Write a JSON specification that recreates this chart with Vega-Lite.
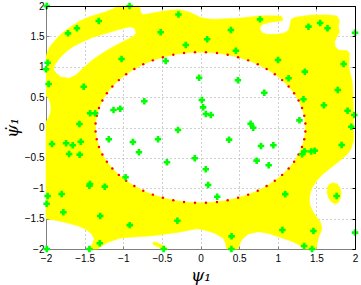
{
  "$schema": "https://vega.github.io/schema/vega-lite/v6.json",
  "width": 309,
  "height": 243,
  "autosize": {"type": "none"},
  "padding": {"left": 46, "top": 6, "right": 6, "bottom": 36},
  "background": "white",
  "config": {
    "view": {"stroke": null},
    "axis": {"labelFont": "Liberation Sans", "labelFontSize": 10, "labelColor": "#000", "titleFont": "DejaVu Serif", "titleFontStyle": "italic", "titleFontWeight": "normal", "titleFontSize": 17, "titleColor": "#000"}
  },
  "datasets": {
    "poly": [
      {"p":"m","o":1,"x":-2,"y":1.17},{"p":"m","o":2,"x":-1.975,"y":1.26},{"p":"m","o":3,"x":-1.95,"y":1.33},{"p":"m","o":4,"x":-1.91,"y":1.39},{"p":"m","o":5,"x":-1.85,"y":1.48},{"p":"m","o":6,"x":-1.78,"y":1.565},{"p":"m","o":7,"x":-1.65,"y":1.685},{"p":"m","o":8,"x":-1.55,"y":1.76},{"p":"m","o":9,"x":-1.44,"y":1.82},{"p":"m","o":10,"x":-1.44,"y":1.46},
      {"p":"m","o":11,"x":-1.525,"y":1.412},{"p":"m","o":12,"x":-1.654,"y":1.33},{"p":"m","o":13,"x":-1.74,"y":1.248},{"p":"m","o":14,"x":-1.827,"y":1.139},{"p":"m","o":15,"x":-1.89,"y":1.02},{"p":"m","o":16,"x":-1.905,"y":0.96},{"p":"m","o":17,"x":-1.875,"y":0.9},{"p":"m","o":18,"x":-1.81,"y":0.83},{"p":"m","o":19,"x":-1.7,"y":0.81},{"p":"m","o":20,"x":-1.61,"y":0.865},
      {"p":"m","o":21,"x":-1.525,"y":0.97},{"p":"m","o":22,"x":-1.395,"y":1.115},{"p":"m","o":23,"x":-1.265,"y":1.228},{"p":"m","o":24,"x":-1.135,"y":1.325},{"p":"m","o":25,"x":-1.005,"y":1.41},{"p":"m","o":26,"x":-0.875,"y":1.495},{"p":"m","o":27,"x":-0.832,"y":1.55},{"p":"m","o":28,"x":-0.853,"y":1.633},{"p":"m","o":29,"x":-0.918,"y":1.66},{"p":"m","o":30,"x":-1.048,"y":1.616},
      {"p":"m","o":31,"x":-1.221,"y":1.55},{"p":"m","o":32,"x":-1.395,"y":1.485},{"p":"m","o":33,"x":-1.44,"y":1.46},{"p":"m","o":34,"x":-1.44,"y":1.82},{"p":"m","o":35,"x":-1.33,"y":1.865},{"p":"m","o":36,"x":-1.22,"y":1.905},{"p":"m","o":37,"x":-1.12,"y":1.96},{"p":"m","o":38,"x":-1.07,"y":2},{"p":"m","o":39,"x":-0.79,"y":2},{"p":"m","o":40,"x":-0.775,"y":1.9},
      {"p":"m","o":41,"x":-0.745,"y":1.855},{"p":"m","o":42,"x":-0.65,"y":1.875},{"p":"m","o":43,"x":-0.53,"y":1.905},{"p":"m","o":44,"x":-0.4,"y":1.93},{"p":"m","o":45,"x":-0.27,"y":1.94},{"p":"m","o":46,"x":-0.15,"y":1.9},{"p":"m","o":47,"x":-0.07,"y":1.855},{"p":"m","o":48,"x":0,"y":1.81},{"p":"m","o":49,"x":0.1,"y":1.785},{"p":"m","o":50,"x":0.19,"y":1.78},
      {"p":"m","o":51,"x":0.35,"y":1.79},{"p":"m","o":52,"x":0.49,"y":1.8},{"p":"m","o":53,"x":0.62,"y":1.815},{"p":"m","o":54,"x":0.75,"y":1.835},{"p":"m","o":55,"x":0.9,"y":1.84},{"p":"m","o":56,"x":1.04,"y":1.835},{"p":"m","o":57,"x":1.065,"y":1.8},{"p":"m","o":58,"x":1.06,"y":1.758},{"p":"m","o":59,"x":0.922,"y":1.737},{"p":"m","o":60,"x":0.813,"y":1.704},
      {"p":"m","o":61,"x":0.775,"y":1.665},{"p":"m","o":62,"x":0.77,"y":1.62},{"p":"m","o":63,"x":0.79,"y":1.565},{"p":"m","o":64,"x":0.857,"y":1.534},{"p":"m","o":65,"x":0.987,"y":1.534},{"p":"m","o":66,"x":1.073,"y":1.55},{"p":"m","o":67,"x":1.138,"y":1.594},{"p":"m","o":68,"x":1.16,"y":1.687},{"p":"m","o":69,"x":1.173,"y":1.78},{"p":"m","o":70,"x":1.225,"y":1.814},
      {"p":"m","o":71,"x":1.442,"y":1.852},{"p":"m","o":72,"x":1.657,"y":1.852},{"p":"m","o":73,"x":1.766,"y":1.835},{"p":"m","o":74,"x":1.796,"y":1.77},{"p":"m","o":75,"x":1.787,"y":1.66},{"p":"m","o":76,"x":1.796,"y":1.56},{"p":"m","o":77,"x":1.766,"y":1.495},{"p":"m","o":78,"x":1.735,"y":1.412},{"p":"m","o":79,"x":1.744,"y":1.33},{"p":"m","o":80,"x":1.787,"y":1.276},
      {"p":"m","o":81,"x":1.896,"y":1.264},{"p":"m","o":82,"x":1.926,"y":1.231},{"p":"m","o":83,"x":1.925,"y":1.1},{"p":"m","o":84,"x":1.92,"y":1.0},{"p":"m","o":85,"x":1.94,"y":0.88},{"p":"m","o":86,"x":1.965,"y":0.75},{"p":"m","o":87,"x":1.975,"y":0.5},{"p":"m","o":88,"x":1.98,"y":0.2},{"p":"m","o":89,"x":1.98,"y":-0.05},{"p":"m","o":90,"x":1.982,"y":-0.22},
      {"p":"m","o":91,"x":1.95,"y":-0.35},{"p":"m","o":92,"x":1.9,"y":-0.44},{"p":"m","o":93,"x":1.83,"y":-0.52},{"p":"m","o":94,"x":1.7,"y":-0.65},{"p":"m","o":95,"x":1.58,"y":-0.77},{"p":"m","o":96,"x":1.5,"y":-0.88},{"p":"m","o":97,"x":1.44,"y":-1.0},{"p":"m","o":98,"x":1.41,"y":-1.14},{"p":"m","o":99,"x":1.415,"y":-1.27},{"p":"m","o":100,"x":1.45,"y":-1.38},
      {"p":"m","o":101,"x":1.5,"y":-1.47},{"p":"m","o":102,"x":1.55,"y":-1.55},{"p":"m","o":103,"x":1.57,"y":-1.64},{"p":"m","o":104,"x":1.56,"y":-1.72},{"p":"m","o":105,"x":1.53,"y":-1.8},{"p":"m","o":106,"x":1.51,"y":-1.9},{"p":"m","o":107,"x":1.5,"y":-2},{"p":"m","o":108,"x":1.33,"y":-2},{"p":"m","o":109,"x":1.268,"y":-1.923},{"p":"m","o":110,"x":1.138,"y":-1.852},
      {"p":"m","o":111,"x":1.008,"y":-1.797},{"p":"m","o":112,"x":0.878,"y":-1.742},{"p":"m","o":113,"x":0.748,"y":-1.715},{"p":"m","o":114,"x":0.618,"y":-1.753},{"p":"m","o":115,"x":0.54,"y":-1.84},{"p":"m","o":116,"x":0.51,"y":-1.906},{"p":"m","o":117,"x":0.488,"y":-2},{"p":"m","o":118,"x":0.338,"y":-2},{"p":"m","o":119,"x":0.325,"y":-1.906},{"p":"m","o":120,"x":0.294,"y":-1.824},
      {"p":"m","o":121,"x":0.186,"y":-1.742},{"p":"m","o":122,"x":0.056,"y":-1.687},{"p":"m","o":123,"x":-0.05,"y":-1.665},{"p":"m","o":124,"x":-0.27,"y":-1.72},{"p":"m","o":125,"x":-0.49,"y":-1.76},{"p":"m","o":126,"x":-0.66,"y":-1.785},{"p":"m","o":127,"x":-0.79,"y":-1.795},{"p":"m","o":128,"x":-0.92,"y":-1.805},{"p":"m","o":129,"x":-1.05,"y":-1.825},{"p":"m","o":130,"x":-1.178,"y":-1.88},
      {"p":"m","o":131,"x":-1.265,"y":-1.934},{"p":"m","o":132,"x":-1.33,"y":-2},{"p":"m","o":133,"x":-1.45,"y":-2},{"p":"m","o":134,"x":-1.4,"y":-1.92},{"p":"m","o":135,"x":-1.375,"y":-1.83},{"p":"m","o":136,"x":-1.41,"y":-1.75},{"p":"m","o":137,"x":-1.48,"y":-1.68},{"p":"m","o":138,"x":-1.58,"y":-1.62},{"p":"m","o":139,"x":-1.72,"y":-1.57},{"p":"m","o":140,"x":-1.86,"y":-1.53},
      {"p":"m","o":141,"x":-2,"y":-1.5},{"p":"m","o":142,"x":-2,"y":0},{"p":"m","o":143,"x":-1.36,"y":0},
      {"p":"m","o":144,"x":-1.358,"y":-0.065},{"p":"m","o":145,"x":-1.343,"y":-0.194},{"p":"m","o":146,"x":-1.314,"y":-0.321},{"p":"m","o":147,"x":-1.27,"y":-0.444},{"p":"m","o":148,"x":-1.212,"y":-0.563},{"p":"m","o":149,"x":-1.141,"y":-0.675},{"p":"m","o":150,"x":-1.057,"y":-0.78},{"p":"m","o":151,"x":-0.962,"y":-0.877},{"p":"m","o":152,"x":-0.856,"y":-0.964},{"p":"m","o":153,"x":-0.741,"y":-1.04},
      {"p":"m","o":154,"x":-0.617,"y":-1.105},{"p":"m","o":155,"x":-0.487,"y":-1.158},{"p":"m","o":156,"x":-0.352,"y":-1.198},{"p":"m","o":157,"x":-0.213,"y":-1.225},{"p":"m","o":158,"x":-0.071,"y":-1.238},{"p":"m","o":159,"x":0.071,"y":-1.238},{"p":"m","o":160,"x":0.213,"y":-1.225},{"p":"m","o":161,"x":0.352,"y":-1.198},{"p":"m","o":162,"x":0.487,"y":-1.158},{"p":"m","o":163,"x":0.617,"y":-1.105},
      {"p":"m","o":164,"x":0.741,"y":-1.04},{"p":"m","o":165,"x":0.856,"y":-0.964},{"p":"m","o":166,"x":0.962,"y":-0.877},{"p":"m","o":167,"x":1.057,"y":-0.78},{"p":"m","o":168,"x":1.141,"y":-0.675},{"p":"m","o":169,"x":1.212,"y":-0.563},{"p":"m","o":170,"x":1.27,"y":-0.444},{"p":"m","o":171,"x":1.314,"y":-0.321},{"p":"m","o":172,"x":1.343,"y":-0.194},{"p":"m","o":173,"x":1.358,"y":-0.065},
      {"p":"m","o":174,"x":1.358,"y":0.065},{"p":"m","o":175,"x":1.343,"y":0.194},{"p":"m","o":176,"x":1.314,"y":0.321},{"p":"m","o":177,"x":1.27,"y":0.444},{"p":"m","o":178,"x":1.212,"y":0.563},{"p":"m","o":179,"x":1.141,"y":0.675},{"p":"m","o":180,"x":1.057,"y":0.78},{"p":"m","o":181,"x":0.962,"y":0.877},{"p":"m","o":182,"x":0.856,"y":0.964},{"p":"m","o":183,"x":0.741,"y":1.04},
      {"p":"m","o":184,"x":0.617,"y":1.105},{"p":"m","o":185,"x":0.487,"y":1.158},{"p":"m","o":186,"x":0.352,"y":1.198},{"p":"m","o":187,"x":0.213,"y":1.225},{"p":"m","o":188,"x":0.071,"y":1.238},{"p":"m","o":189,"x":-0.071,"y":1.238},{"p":"m","o":190,"x":-0.213,"y":1.225},{"p":"m","o":191,"x":-0.352,"y":1.198},{"p":"m","o":192,"x":-0.487,"y":1.158},{"p":"m","o":193,"x":-0.617,"y":1.105},
      {"p":"m","o":194,"x":-0.741,"y":1.04},{"p":"m","o":195,"x":-0.856,"y":0.964},{"p":"m","o":196,"x":-0.962,"y":0.877},{"p":"m","o":197,"x":-1.057,"y":0.78},{"p":"m","o":198,"x":-1.141,"y":0.675},{"p":"m","o":199,"x":-1.212,"y":0.563},{"p":"m","o":200,"x":-1.27,"y":0.444},{"p":"m","o":201,"x":-1.314,"y":0.321},{"p":"m","o":202,"x":-1.343,"y":0.194},{"p":"m","o":203,"x":-1.358,"y":0.065},
      {"p":"m","o":204,"x":-1.36,"y":0},{"p":"m","o":205,"x":-2,"y":0},{"p":"m","o":206,"x":-2,"y":0.095},{"p":"m","o":207,"x":-1.965,"y":0.16},{"p":"m","o":208,"x":-1.943,"y":0.24},{"p":"m","o":209,"x":-1.935,"y":0.3},{"p":"m","o":210,"x":-1.94,"y":0.38},{"p":"m","o":211,"x":-1.955,"y":0.45},{"p":"m","o":212,"x":-1.98,"y":0.5},{"p":"m","o":213,"x":-2,"y":0.52},
      {"p":"r","o":1,"x":1.71,"y":-0.91},{"p":"r","o":2,"x":1.77,"y":-0.93},{"p":"r","o":3,"x":1.805,"y":-0.99},{"p":"r","o":4,"x":1.82,"y":-1.07},{"p":"r","o":5,"x":1.81,"y":-1.17},{"p":"r","o":6,"x":1.78,"y":-1.24},{"p":"r","o":7,"x":1.74,"y":-1.26},{"p":"r","o":8,"x":1.69,"y":-1.22},{"p":"r","o":9,"x":1.655,"y":-1.15},{"p":"r","o":10,"x":1.64,"y":-1.07},{"p":"r","o":11,"x":1.645,"y":-0.98},{"p":"r","o":12,"x":1.67,"y":-0.93},
      {"p":"b","o":1,"x":-0.615,"y":-1.885},{"p":"b","o":2,"x":-0.57,"y":-1.89},{"p":"b","o":3,"x":-0.52,"y":-1.92},{"p":"b","o":4,"x":-0.46,"y":-1.96},{"p":"b","o":5,"x":-0.42,"y":-2},{"p":"b","o":6,"x":-0.47,"y":-2},{"p":"b","o":7,"x":-0.53,"y":-1.975},{"p":"b","o":8,"x":-0.6,"y":-1.935},{"p":"b","o":9,"x":-0.62,"y":-1.91}
    ],
    "dots": [
      {"x":-1.358,"y":-0.065},{"x":-1.343,"y":-0.194},{"x":-1.314,"y":-0.321},{"x":-1.27,"y":-0.444},{"x":-1.212,"y":-0.563},{"x":-1.141,"y":-0.675},{"x":-1.057,"y":-0.78},{"x":-0.962,"y":-0.877},{"x":-0.856,"y":-0.964},{"x":-0.741,"y":-1.04},
      {"x":-0.617,"y":-1.105},{"x":-0.487,"y":-1.158},{"x":-0.352,"y":-1.198},{"x":-0.213,"y":-1.225},{"x":-0.071,"y":-1.238},{"x":0.071,"y":-1.238},{"x":0.213,"y":-1.225},{"x":0.352,"y":-1.198},{"x":0.487,"y":-1.158},{"x":0.617,"y":-1.105},
      {"x":0.741,"y":-1.04},{"x":0.856,"y":-0.964},{"x":0.962,"y":-0.877},{"x":1.057,"y":-0.78},{"x":1.141,"y":-0.675},{"x":1.212,"y":-0.563},{"x":1.27,"y":-0.444},{"x":1.314,"y":-0.321},{"x":1.343,"y":-0.194},{"x":1.358,"y":-0.065},
      {"x":1.358,"y":0.065},{"x":1.343,"y":0.194},{"x":1.314,"y":0.321},{"x":1.27,"y":0.444},{"x":1.212,"y":0.563},{"x":1.141,"y":0.675},{"x":1.057,"y":0.78},{"x":0.962,"y":0.877},{"x":0.856,"y":0.964},{"x":0.741,"y":1.04},
      {"x":0.617,"y":1.105},{"x":0.487,"y":1.158},{"x":0.352,"y":1.198},{"x":0.213,"y":1.225},{"x":0.071,"y":1.238},{"x":-0.071,"y":1.238},{"x":-0.213,"y":1.225},{"x":-0.352,"y":1.198},{"x":-0.487,"y":1.158},{"x":-0.617,"y":1.105},
      {"x":-0.741,"y":1.04},{"x":-0.856,"y":0.964},{"x":-0.962,"y":0.877},{"x":-1.057,"y":0.78},{"x":-1.141,"y":0.675},{"x":-1.212,"y":0.563},{"x":-1.27,"y":0.444},{"x":-1.314,"y":0.321},{"x":-1.343,"y":0.194},{"x":-1.358,"y":0.065}
    ],
    "pts": [
      {"x":-1.99,"y":2.0},{"x":-0.918,"y":2.0},{"x":-0.285,"y":1.86},{"x":-1.317,"y":1.753},{"x":-1.715,"y":1.55},{"x":-1.6,"y":1.633},{"x":-0.516,"y":1.567},{"x":-1.022,"y":1.128},{"x":-0.451,"y":1.095},{"x":-0.191,"y":1.358},
      {"x":-1.979,"y":1.067},{"x":-2.0,"y":0.958},{"x":-1.966,"y":0.716},{"x":-1.512,"y":0.672},{"x":-1.429,"y":0.234},{"x":-1.364,"y":0.234},{"x":-1.567,"y":0.058},{"x":-1.126,"y":0.288},{"x":-1.039,"y":0.31},{"x":-0.727,"y":0.431},
      {"x":-0.291,"y":-0.041},{"x":-1.187,"y":-0.194},{"x":-0.55,"y":-0.194},{"x":0.77,"y":1.78},{"x":1.398,"y":1.66},{"x":1.549,"y":1.72},{"x":1.644,"y":1.633},{"x":2.0,"y":1.56},{"x":0.394,"y":1.605},{"x":0.086,"y":1.452},
      {"x":0.458,"y":1.264},{"x":1.004,"y":1.111},{"x":1.351,"y":0.919},{"x":1.852,"y":1.045},{"x":1.14,"y":0.81},{"x":1.777,"y":0.617},{"x":1.333,"y":0.464},{"x":1.597,"y":0.367},{"x":1.904,"y":0.277},{"x":1.991,"y":0.206},
      {"x":1.952,"y":0.013},{"x":1.281,"y":0.118},{"x":-0.018,"y":0.82},{"x":0.484,"y":0.777},{"x":0.826,"y":0.573},{"x":0.017,"y":0.453},{"x":0.034,"y":0.332},{"x":0.069,"y":0.222},{"x":0.134,"y":0.206},{"x":0.649,"y":0.063},
      {"x":0.683,"y":-0.003},{"x":0.37,"y":-0.2},{"x":0.783,"y":-0.305},{"x":0.943,"y":-0.293},{"x":-0.074,"y":-0.507},{"x":0.727,"y":-0.546},{"x":0.883,"y":-0.622},{"x":0.069,"y":-0.688},{"x":0.099,"y":-0.947},{"x":0.216,"y":-1.139},
      {"x":1.316,"y":-0.44},{"x":1.346,"y":-0.39},{"x":1.433,"y":-0.395},{"x":1.478,"y":-0.381},{"x":1.827,"y":-0.288},{"x":1.097,"y":-1.097},{"x":1.762,"y":-1.128},{"x":0.402,"y":-1.792},{"x":0.4,"y":-2.0},{"x":1.06,"y":-1.687},
      {"x":1.462,"y":-1.704},{"x":1.342,"y":-1.95},{"x":1.444,"y":-2.0},{"x":2.0,"y":-1.73},{"x":-1.922,"y":-0.272},{"x":-1.74,"y":-0.26},{"x":-1.654,"y":-0.293},{"x":-1.55,"y":-0.234},{"x":-1.701,"y":-0.436},{"x":-1.564,"y":-0.447},
      {"x":-0.875,"y":-0.238},{"x":-0.797,"y":-0.408},{"x":-0.434,"y":-0.573},{"x":-0.97,"y":-0.82},{"x":-1.438,"y":-0.958},{"x":-1.43,"y":-0.93},{"x":-1.239,"y":-0.974},{"x":-1.797,"y":-1.095},{"x":-1.979,"y":-1.128},{"x":-1.992,"y":-1.254},
      {"x":-1.775,"y":-1.395},{"x":-1.298,"y":-1.457},{"x":-0.916,"y":-1.607},{"x":-0.299,"y":-1.534},{"x":-1.304,"y":-1.906},{"x":-1.438,"y":-2.0},{"x":-1.99,"y":-2.0},{"x":-0.477,"y":-2.0}
    ]
  },
  "layer": [
    {
      "data": {"name": "poly"},
      "mark": {"type": "line", "fill": "#ffff00", "stroke": "#ffff00", "strokeWidth": 0.6, "interpolate": "linear"},
      "encoding": {
        "x": {"field": "x", "type": "quantitative", "scale": {"domain": [-2, 2], "nice": false, "zero": false},
              "axis": {"orient": "bottom", "values": [-2, -1.5, -1, -0.5, 0, 0.5, 1, 1.5, 2], "format": "~g", "labelFlush": false, "labelOverlap": false, "grid": true, "gridColor": "#a0a0a0", "gridDash": [1, 3], "domainColor": "#7f7f7f", "tickColor": "#7f7f7f", "tickSize": -3, "labelPadding": 7, "title": "ψ₁", "titlePadding": 4}},
        "y": {"field": "y", "type": "quantitative", "scale": {"domain": [-2, 2], "nice": false, "zero": false},
              "axis": {"orient": "left", "values": [-2, -1.5, -1, -0.5, 0, 0.5, 1, 1.5, 2], "format": "~g", "labelFlush": false, "labelOverlap": false, "grid": true, "gridColor": "#a0a0a0", "gridDash": [1, 3], "domainColor": "#7f7f7f", "tickColor": "#7f7f7f", "tickSize": -3, "labelPadding": 5, "title": "ψ̇₁", "titlePadding": 3}},
        "detail": {"field": "p"},
        "order": {"field": "o", "type": "quantitative"}
      }
    },
    {
      "data": {"name": "dots"},
      "mark": {"type": "circle", "color": "#ff0000", "size": 6, "opacity": 1},
      "encoding": {
        "x": {"field": "x", "type": "quantitative", "axis": null},
        "y": {"field": "y", "type": "quantitative", "axis": null}
      }
    },
    {
      "data": {"name": "pts"},
      "mark": {"type": "point", "shape": "M-0.4,-1H0.4V-0.4H1V0.4H0.4V1H-0.4V0.4H-1V-0.4H-0.4Z", "filled": true, "color": "#00ff00", "size": 42, "opacity": 1},
      "encoding": {
        "x": {"field": "x", "type": "quantitative",
              "axis": {"orient": "top", "values": [-2, -1.5, -1, -0.5, 0, 0.5, 1, 1.5, 2], "labels": false, "grid": false, "domainColor": "#000", "tickColor": "#000", "tickSize": -3, "title": null, "zindex": 1}},
        "y": {"field": "y", "type": "quantitative",
              "axis": {"orient": "right", "values": [-2, -1.5, -1, -0.5, 0, 0.5, 1, 1.5, 2], "labels": false, "grid": false, "domainColor": "#000", "tickColor": "#000", "tickSize": -3, "title": null, "zindex": 1}}
      }
    }
  ],
  "resolve": {"axis": {"x": "independent", "y": "independent"}}
}
